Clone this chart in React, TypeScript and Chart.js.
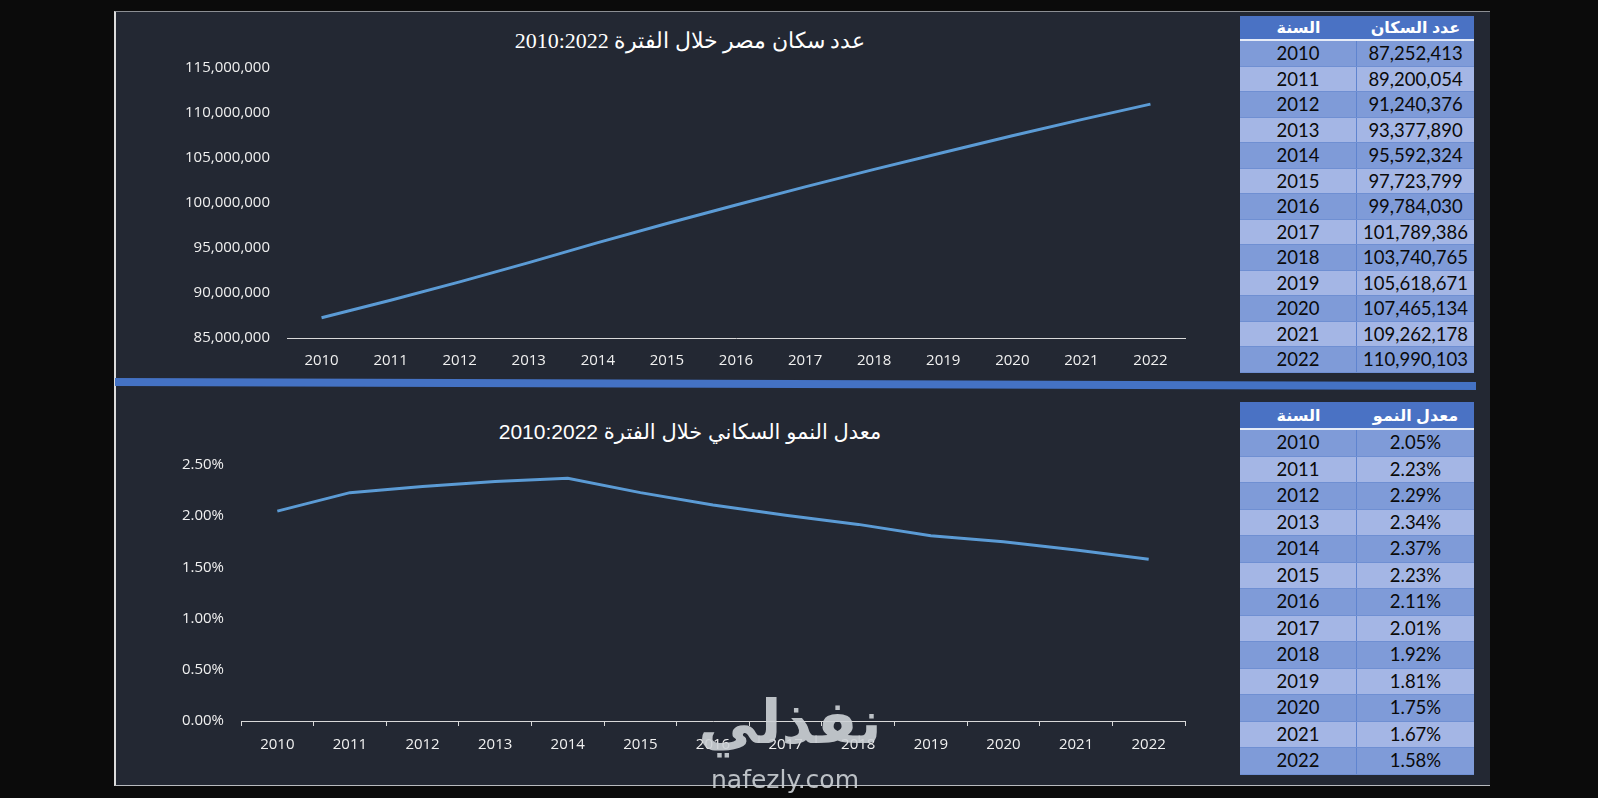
import React, { useEffect, useRef } from "react";
import { Chart, registerables } from "chart.js";

Chart.register(...registerables);

const years = ["2010", "2011", "2012", "2013", "2014", "2015", "2016", "2017", "2018", "2019", "2020", "2021", "2022"];
const population = [87252413, 89200054, 91240376, 93377890, 95592324, 97723799, 99784030, 101789386, 103740765, 105618671, 107465134, 109262178, 110990103];
const growthRate = [2.05, 2.23, 2.29, 2.34, 2.37, 2.23, 2.11, 2.01, 1.92, 1.81, 1.75, 1.67, 1.58];

const topTitle = "عدد سكان مصر خلال الفترة 2010:2022";
const bottomTitle = "معدل النمو السكاني خلال الفترة 2010:2022";
const yearHeader = "السنة";
const popHeader = "عدد السكان";
const rateHeader = "معدل النمو";

const LINE = "#5b9bd5";
const PANEL = "#232833";
const TICK_FONT = { family: "'Open Sans', sans-serif", size: 15 };

function LineChart(props: {
  values: number[];
  min: number;
  max: number;
  step: number;
  fmt: (v: number) => string;
  yWidth: number;
  padTop: number;
  areaH: number;
  ticks: boolean;
  labelPad: number;
}) {
  const ref = useRef<HTMLCanvasElement | null>(null);
  useEffect(() => {
    if (!ref.current) return;
    const chart = new Chart(ref.current, {
      type: "line",
      data: {
        labels: years,
        datasets: [
          {
            data: props.values,
            borderColor: LINE,
            borderWidth: 3,
            pointRadius: 0,
            tension: 0,
            fill: false,
          },
        ],
      },
      options: {
        animation: false,
        responsive: false,
        maintainAspectRatio: false,
        layout: { padding: { top: props.padTop, right: 55, left: 0, bottom: 0 } },
        plugins: { legend: { display: false }, title: { display: false }, tooltip: { enabled: false } },
        scales: {
          x: {
            type: "category",
            offset: true,
            border: { display: true, color: "#d9d9d9", width: 1 },
            grid: {
              display: props.ticks,
              drawOnChartArea: false,
              drawTicks: props.ticks,
              tickLength: 5,
              offset: true,
              color: "#d9d9d9",
            },
            ticks: { color: "#f0f0f0", font: TICK_FONT, padding: props.labelPad, maxRotation: 0, autoSkip: false },
            afterFit: (s: any) => {
              s.height = 40;
            },
          },
          y: {
            min: props.min,
            max: props.max,
            border: { display: false },
            grid: { display: false, drawTicks: false },
            ticks: {
              stepSize: props.step,
              color: "#f0f0f0",
              font: TICK_FONT,
              padding: 17,
              callback: (v: any) => props.fmt(Number(v)),
            },
            afterFit: (s: any) => {
              s.width = props.yWidth;
            },
          },
        },
      },
    });
    return () => chart.destroy();
  }, []);
  return <canvas ref={ref} width={1125} height={props.padTop + props.areaH + 40} />;
}

function DataTable(props: {
  header: string;
  values: string[];
  top: number;
  headH: number;
  rowH: number;
}) {
  const left = 1240;
  const w = 234;
  const col = 117;
  return (
    <div style={{ position: "absolute", left, top: props.top, width: w }}>
      <div
        style={{
          display: "flex",
          height: props.headH,
          background: "#4a72c4",
          borderBottom: "2px solid #e6ecf8",
          boxSizing: "border-box",
          color: "#fff",
          fontWeight: "bold",
          fontFamily: "'Liberation Sans', 'DejaVu Sans', sans-serif",
          fontSize: 16,
          alignItems: "center",
        }}
      >
        <div style={{ width: col, textAlign: "center", direction: "rtl" }}>{yearHeader}</div>
        <div style={{ width: w - col, textAlign: "center", direction: "rtl" }}>{props.header}</div>
      </div>
      {years.map((y, i) => (
        <div
          key={y}
          style={{
            display: "flex",
            height: props.rowH,
            background: i % 2 === 0 ? "#7f9bd8" : "#a4b6e5",
            borderBottom: "1px solid #6f8fd2",
            boxSizing: "border-box",
            color: "#0a0a0a",
            fontFamily: "Lato, sans-serif",
            fontSize: 18.5,
            alignItems: "center",
          }}
        >
          <div
            style={{
              width: col,
              textAlign: "center",
              borderRight: "1px solid #5f84cf",
              boxSizing: "border-box",
              height: "100%",
              lineHeight: props.rowH - 1 + "px",
            }}
          >
            {y}
          </div>
          <div style={{ width: w - col, textAlign: "center", lineHeight: props.rowH - 1 + "px" }}>{props.values[i]}</div>
        </div>
      ))}
    </div>
  );
}

export default function App() {
  const popStrings = population.map((v) => v.toLocaleString("en-US"));
  const rateStrings = growthRate.map((v) => v.toFixed(2) + "%");
  return (
    <div style={{ position: "fixed", left: 0, top: 0, width: 1598, height: 798, background: "#0b0b0b", overflow: "hidden" }}>
      <div
        style={{
          position: "absolute",
          left: 114,
          top: 11,
          width: 1376,
          height: 775,
          background: PANEL,
          borderTop: "1px solid #8c8f94",
          borderLeft: "2px solid #dcdcdc",
          borderBottom: "1px solid #b8bbbf",
          boxSizing: "border-box",
        }}
      />
      <div
        style={{
          position: "absolute",
          left: 380,
          width: 620,
          top: 25,
          textAlign: "center",
          direction: "rtl",
          color: "#fff",
          fontFamily: "'Liberation Serif', 'DejaVu Serif', serif",
          fontSize: 22,
          lineHeight: "32px",
        }}
      >
        {topTitle}
      </div>
      <div
        style={{
          position: "absolute",
          left: 380,
          width: 620,
          top: 416,
          textAlign: "center",
          direction: "rtl",
          color: "#fff",
          fontFamily: "'Liberation Sans', 'DejaVu Sans', sans-serif",
          fontSize: 21,
          lineHeight: "32px",
        }}
      >
        {bottomTitle}
      </div>
      <div style={{ position: "absolute", left: 115, top: 12 }}>
        <LineChart
          values={population}
          min={85000000}
          max={115000000}
          step={5000000}
          fmt={(v) => v.toLocaleString("en-US")}
          yWidth={172}
          padTop={56}
          areaH={270}
          ticks={false}
          labelPad={14}
        />
      </div>
      <div style={{ position: "absolute", left: 115, top: 390 }}>
        <LineChart
          values={growthRate}
          min={0}
          max={2.5}
          step={0.5}
          fmt={(v) => v.toFixed(2) + "%"}
          yWidth={126}
          padTop={75}
          areaH={256}
          ticks={true}
          labelPad={10}
        />
      </div>
      <div
        style={{
          position: "absolute",
          left: 115,
          top: 378,
          width: 1361,
          height: 8,
          background: "#4472c4",
          transform: "rotate(0.17deg)",
          transformOrigin: "left center",
        }}
      />
      <DataTable header={popHeader} values={popStrings} top={16} headH={25} rowH={25.5} />
      <DataTable header={rateHeader} values={rateStrings} top={402} headH={28} rowH={26.5} />
      <div
        style={{
          position: "absolute",
          left: 680,
          top: 682,
          width: 220,
          textAlign: "center",
          direction: "rtl",
          color: "rgba(205,209,214,0.9)",
          fontFamily: "'DejaVu Sans', sans-serif",
          fontWeight: "bold",
          fontSize: 60,
          lineHeight: "80px",
          pointerEvents: "none",
        }}
      >
        نفذلي
      </div>
      <div
        style={{
          position: "absolute",
          left: 675,
          top: 765,
          width: 220,
          textAlign: "center",
          color: "rgba(205,209,214,0.9)",
          fontFamily: "'DejaVu Sans', sans-serif",
          fontSize: 25,
          lineHeight: "30px",
          pointerEvents: "none",
        }}
      >
        nafezly.com
      </div>
    </div>
  );
}
